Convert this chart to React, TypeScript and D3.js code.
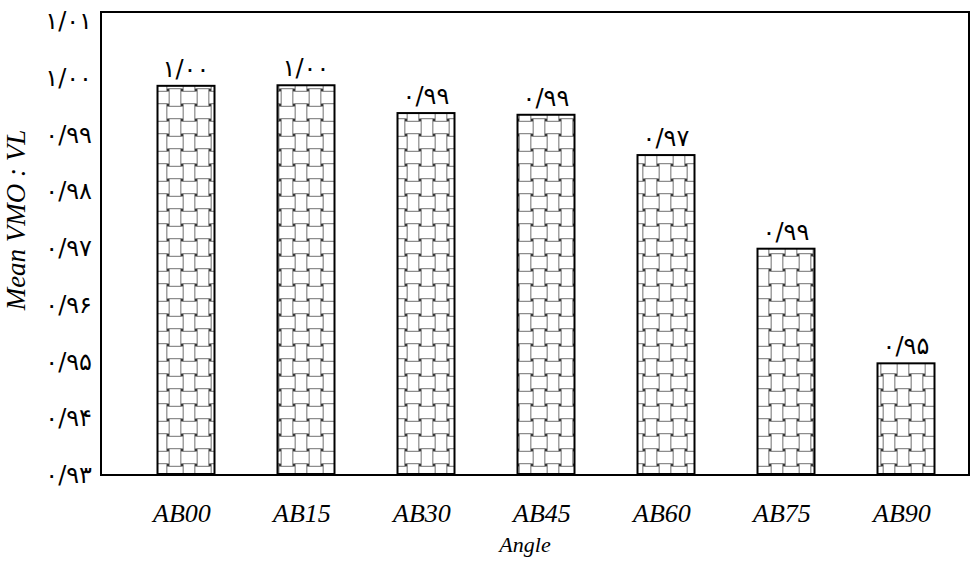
import { useEffect, useRef } from "react";
import * as d3 from "d3";

const categories = ["AB00", "AB15", "AB30", "AB45", "AB60", "AB75", "AB90"];
const meanValues = [0.9984, 0.9985, 0.9936, 0.9933, 0.9862, 0.9697, 0.9495];
const barLabels = ["۱/۰۰", "۱/۰۰", "۰/۹۹", "۰/۹۹", "۰/۹۷", "۰/۹۹", "۰/۹۵"];
const yTicks = [0.93, 0.94, 0.95, 0.96, 0.97, 0.98, 0.99, 1.0, 1.01];
const yTickLabels = ["۰/۹۳", "۰/۹۴", "۰/۹۵", "۰/۹۶", "۰/۹۷", "۰/۹۸", "۰/۹۹", "۱/۰۰", "۱/۰۱"];

const App = () => {
  const svgRef = useRef<SVGSVGElement>(null);

  useEffect(() => {
    if (!svgRef.current) return;
    const svg = d3.select(svgRef.current);
    svg.selectAll("*").remove();

    const frame = { left: 101, top: 12, right: 969, bottom: 475 };

    // Scales
    const x = d3
      .scaleBand()
      .domain(categories)
      .range([126, 966])
      .paddingInner(0.525)
      .paddingOuter(0.2625);
    const y = d3.scaleLinear().domain([0.93, 1.01]).range([474, 20]);

    // basket weave pattern
    const cw = 14;
    const ch = 15;
    const pat = svg
      .append("defs")
      .append("pattern")
      .attr("id", "weave")
      .attr("patternUnits", "userSpaceOnUse")
      .attr("width", cw * 2)
      .attr("height", ch * 2);
    pat.append("rect").attr("width", cw * 2).attr("height", ch * 2).attr("fill", "#111");
    const cells: { c: number; r: number }[] = [];
    for (let c = -1; c <= 2; c++) for (let r = -1; r <= 2; r++) cells.push({ c, r });
    const plank = (sel: any) => sel.attr("fill", "#fff").attr("stroke", "#777").attr("stroke-width", 0.8);
    cells
      .filter((d) => (d.c + d.r) % 2 !== 0)
      .forEach((d) =>
        pat
          .append("rect")
          .attr("x", d.c * cw - 1.2)
          .attr("y", d.r * ch + 1.2)
          .attr("width", cw + 2.4)
          .attr("height", ch - 2.4)
          .call(plank)
      );
    cells
      .filter((d) => (d.c + d.r) % 2 === 0)
      .forEach((d) =>
        pat
          .append("rect")
          .attr("x", d.c * cw + 1.2)
          .attr("y", d.r * ch - 1.2)
          .attr("width", cw - 2.4)
          .attr("height", ch + 2.4)
          .call(plank)
      );

    // Bars
    svg
      .append("g")
      .selectAll("rect")
      .data(meanValues)
      .join("rect")
      .attr("x", (_, i) => x(categories[i])!)
      .attr("y", (d) => y(d))
      .attr("width", x.bandwidth())
      .attr("height", (d) => y(0.93) - y(d))
      .attr("fill", "url(#weave)")
      .attr("stroke", "#000")
      .attr("stroke-width", 2);

    // Frame
    svg
      .append("rect")
      .attr("x", frame.left)
      .attr("y", frame.top)
      .attr("width", frame.right - frame.left)
      .attr("height", frame.bottom - frame.top)
      .attr("fill", "none")
      .attr("stroke", "#000")
      .attr("stroke-width", 2);

    // Y tick labels
    svg
      .append("g")
      .selectAll("text")
      .data(yTicks)
      .join("text")
      .attr("x", 92)
      .attr("y", (d) => y(d))
      .attr("dy", "0.38em")
      .attr("text-anchor", "end")
      .attr("font-family", "DejaVu Sans")
      .attr("font-size", 24)
      .attr("letter-spacing", 1.5)
      .text((_, i) => yTickLabels[i]);

    // Bar value labels
    svg
      .append("g")
      .selectAll("text")
      .data(meanValues)
      .join("text")
      .attr("x", (_, i) => x(categories[i])! + x.bandwidth() / 2)
      .attr("y", (d) => y(d) - 9)
      .attr("text-anchor", "middle")
      .attr("font-family", "DejaVu Sans")
      .attr("font-size", 24)
      .attr("letter-spacing", 1.5)
      .text((_, i) => barLabels[i]);

    // X labels
    svg
      .append("g")
      .selectAll("text")
      .data(categories)
      .join("text")
      .attr("x", (d) => x(d)! + x.bandwidth() / 2 - 4)
      .attr("y", 522)
      .attr("text-anchor", "middle")
      .attr("font-family", "Liberation Serif")
      .attr("font-style", "italic")
      .attr("font-size", 26)
      .text((d) => d);

    // Axis titles
    svg
      .append("text")
      .attr("x", 525)
      .attr("y", 552)
      .attr("text-anchor", "middle")
      .attr("font-family", "Liberation Serif")
      .attr("font-style", "italic")
      .attr("font-size", 22)
      .text("Angle");

    svg
      .append("text")
      .attr("transform", "translate(25,220) rotate(-90)")
      .attr("text-anchor", "middle")
      .attr("font-family", "Liberation Serif")
      .attr("font-style", "italic")
      .attr("font-size", 27)
      .text("Mean VMO : VL");
  }, []);

  return (
    <svg
      ref={svgRef}
      width={976}
      height={569}
      style={{ position: "absolute", left: 0, top: 0, background: "#fff" }}
    />
  );
};

export default App;
